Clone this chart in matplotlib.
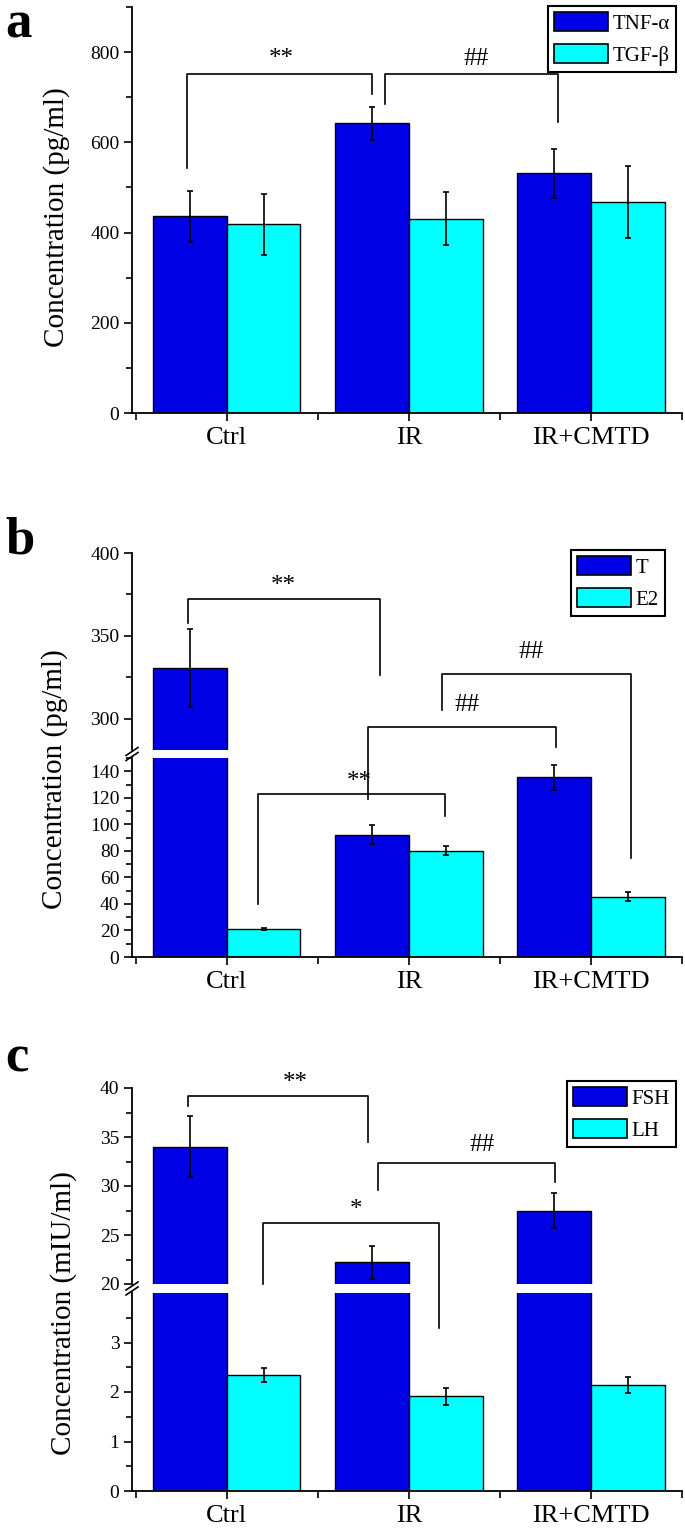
import matplotlib
matplotlib.use("Agg")
import matplotlib.pyplot as plt
from matplotlib.lines import Line2D
from matplotlib.patches import Patch
from matplotlib.ticker import FixedLocator
import numpy as np

plt.rcParams['font.family'] = ['Liberation Serif', 'DejaVu Serif']

groups = ['Ctrl', 'IR', 'IR+CMTD']

# panel a (pg/ml)
tnf = [436, 642, 531]
tnf_err = [56, 36, 54]
tgf = [418, 431, 467]
tgf_err = [67, 58, 80]

# panel b (pg/ml)
t_vals = [330.5, 92, 135.5]
t_err = [23.5, 7.2, 9.5]
e2_vals = [21, 80, 45.5]
e2_err = [1.0, 3.3, 3.2]

# panel c (mIU/ml)
fsh = [34.0, 22.2, 27.5]
fsh_err = [3.1, 1.7, 1.75]
lh = [2.34, 1.91, 2.14]
lh_err = [0.14, 0.18, 0.16]

# significance brackets: x_left, x_right, y_top, y_left_end, y_right_end, label, text_x, text_y
brackets_a = [(0.78, 1.80, 752, 544, 707, '**', 1.30, 784),
              (1.87, 2.82, 752, 685, 644, '##', 2.37, 784)]
brackets_b = [(0.79, 1.84, 372, 358, 326.5, '**', 1.31, 380),
              (2.18, 3.22, 327, 305, 75, '##', 2.67, 340),
              (1.775, 2.81, 295, 119, 283, '##', 2.32, 308),
              (1.17, 2.20, 122.7, 40, 106, '**', 1.73, 132)]
brackets_c = [(0.79, 1.775, 39.2, 38.2, 34.5, '**', 1.375, 40.5),
              (1.83, 2.80, 32.3, 29.6, 30.4, '##', 2.40, 34.2),
              (1.20, 2.165, 26.25, 20.0, 3.3, '*', 1.71, 27.6)]

BLUE = '#0000E6'
CYAN = '#00FFFF'
W = 0.405
W_PX, H_PX = 685, 1528

fig = plt.figure(figsize=(6.85, 15.28), dpi=100)
x = np.arange(1, 4)


def fr(px_left, px_top, px_right, px_bottom):
    return [px_left / W_PX, 1 - px_bottom / H_PX,
            (px_right - px_left) / W_PX, (px_bottom - px_top) / H_PX]


def style(ax, bottom=True):
    ax.spines['top'].set_visible(False)
    ax.spines['right'].set_visible(False)
    for s in ['left', 'bottom']:
        ax.spines[s].set_linewidth(1.3)
    ax.tick_params(axis='y', which='major', length=6, width=1.2, labelsize=14, pad=3)
    ax.tick_params(axis='y', which='minor', length=4, width=1.2)
    ax.set_xlim(0.48, 3.5)
    if bottom:
        ax.set_xticks(x)
        ax.set_xticklabels(groups)
        ax.xaxis.set_minor_locator(FixedLocator([0.5, 1.5, 2.5, 3.5]))
        ax.tick_params(axis='x', which='major', length=6, width=1.2, labelsize=19, pad=4)
        ax.tick_params(axis='x', which='minor', length=5, width=1.2)
    else:
        ax.spines['bottom'].set_visible(False)
        ax.set_xticks([])
        ax.xaxis.set_minor_locator(FixedLocator([]))


def bar_pair(ax, v1, e1, v2, e2):
    ekw = dict(elinewidth=1.2, capthick=1.2, ecolor='black')
    ax.bar(x - W / 2, v1, W, color=BLUE, edgecolor='black', linewidth=1,
           yerr=e1, capsize=2.5, error_kw=ekw)
    ax.bar(x + W / 2, v2, W, color=CYAN, edgecolor='black', linewidth=1,
           yerr=e2, capsize=2.5, error_kw=ekw)


def to_fig(axes, xv, yv):
    ax = axes[0]
    if len(axes) > 1 and yv > axes[0].get_ylim()[1]:
        ax = axes[1]
    p = ax.transData.transform((xv, yv))
    return fig.transFigure.inverted().transform(p)


def draw_brackets(axes, brs):
    for x1, x2, yt, y1, y2, lab, tx, ty in brs:
        pts = [to_fig(axes, x1, y1), to_fig(axes, x1, yt),
               to_fig(axes, x2, yt), to_fig(axes, x2, y2)]
        fig.add_artist(Line2D([p[0] for p in pts], [p[1] for p in pts],
                              transform=fig.transFigure, color='black', lw=1.2))
        tp = to_fig(axes, tx, ty)
        fig.text(tp[0], tp[1], lab, ha='center', va='center', fontsize=18)


def break_marks(lower, upper):
    p_lo = lower.transAxes.transform((0, 1))
    p_hi = upper.transAxes.transform((0, 0))
    xc = p_lo[0]
    yc = (p_lo[1] + p_hi[1]) / 2
    for off in (-2.5, 2.5):
        xs = np.array([xc - 6, xc + 6]) / W_PX
        ys = np.array([yc - 4 + off, yc + 4 + off]) / H_PX
        fig.add_artist(Line2D(xs, ys, transform=fig.transFigure, color='black', lw=1.2))


def add_legend(ax, labels, anchor_px):
    handles = [Patch(facecolor=BLUE, edgecolor='black', lw=1.2),
               Patch(facecolor=CYAN, edgecolor='black', lw=1.2)]
    leg = ax.legend(handles, labels, loc='upper right',
                    bbox_to_anchor=(anchor_px[0] / W_PX, 1 - anchor_px[1] / H_PX),
                    bbox_transform=fig.transFigure, fontsize=15, fancybox=False,
                    edgecolor='black', framealpha=1, handlelength=2.6, handleheight=1.0,
                    handletextpad=0.2, labelspacing=0.5, borderpad=0.3,
                    borderaxespad=0)
    leg.get_frame().set_linewidth(1.5)


# ---------------- panel a ----------------
ax_a = fig.add_axes(fr(132, 7, 682, 413))
bar_pair(ax_a, tnf, tnf_err, tgf, tgf_err)
ax_a.set_ylim(0, 900)
ax_a.yaxis.set_major_locator(FixedLocator(range(0, 801, 200)))
ax_a.yaxis.set_minor_locator(FixedLocator(range(100, 901, 200)))
style(ax_a)
add_legend(ax_a, ['TNF-α', 'TGF-β'], (676, 6))

# ---------------- panel b ----------------
ax_bl = fig.add_axes(fr(132, 758, 682, 957))
ax_bu = fig.add_axes(fr(132, 553, 682, 750))
for ax in (ax_bl, ax_bu):
    bar_pair(ax, t_vals, t_err, e2_vals, e2_err)
ax_bl.set_ylim(0, 150)
ax_bu.set_ylim(281, 400)
ax_bl.yaxis.set_major_locator(FixedLocator(range(0, 141, 20)))
ax_bl.yaxis.set_minor_locator(FixedLocator(range(10, 151, 20)))
ax_bu.yaxis.set_major_locator(FixedLocator([300, 350, 400]))
ax_bu.yaxis.set_minor_locator(FixedLocator([325, 375]))
style(ax_bl)
style(ax_bu, bottom=False)
add_legend(ax_bu, ['T', 'E2'], (665, 550))

# ---------------- panel c ----------------
ax_cl = fig.add_axes(fr(132, 1293, 682, 1491))
ax_cu = fig.add_axes(fr(132, 1088, 682, 1284))
for ax in (ax_cl, ax_cu):
    bar_pair(ax, fsh, fsh_err, lh, lh_err)
ax_cl.set_ylim(0, 4)
ax_cu.set_ylim(20, 40)
ax_cl.yaxis.set_major_locator(FixedLocator([0, 1, 2, 3]))
ax_cl.yaxis.set_minor_locator(FixedLocator([0.5, 1.5, 2.5, 3.5]))
ax_cu.yaxis.set_major_locator(FixedLocator([20, 25, 30, 35, 40]))
ax_cu.yaxis.set_minor_locator(FixedLocator([22.5, 27.5, 32.5, 37.5]))
style(ax_cl)
style(ax_cu, bottom=False)
add_legend(ax_cu, ['FSH', 'LH'], (676, 1081))

# brackets, break marks, labels
draw_brackets([ax_a], brackets_a)
draw_brackets([ax_bl, ax_bu], brackets_b)
draw_brackets([ax_cl, ax_cu], brackets_c)
break_marks(ax_bl, ax_bu)
break_marks(ax_cl, ax_cu)

fig.text(57 / W_PX, 1 - 217 / H_PX, 'Concentration (pg/ml)', rotation=90,
         ha='center', va='center', fontsize=21)
fig.text(55 / W_PX, 1 - 779 / H_PX, 'Concentration (pg/ml)', rotation=90,
         ha='center', va='center', fontsize=21)
fig.text(64 / W_PX, 1 - 1313 / H_PX, 'Concentration (mIU/ml)', rotation=90,
         ha='center', va='center', fontsize=21)

for lab, ypx in [('a', 38), ('b', 553), ('c', 1072)]:
    fig.text(5 / W_PX, 1 - ypx / H_PX, lab, fontsize=38, fontweight='bold',
             ha='left', va='baseline')

fig.savefig('out.png', dpi=100)
